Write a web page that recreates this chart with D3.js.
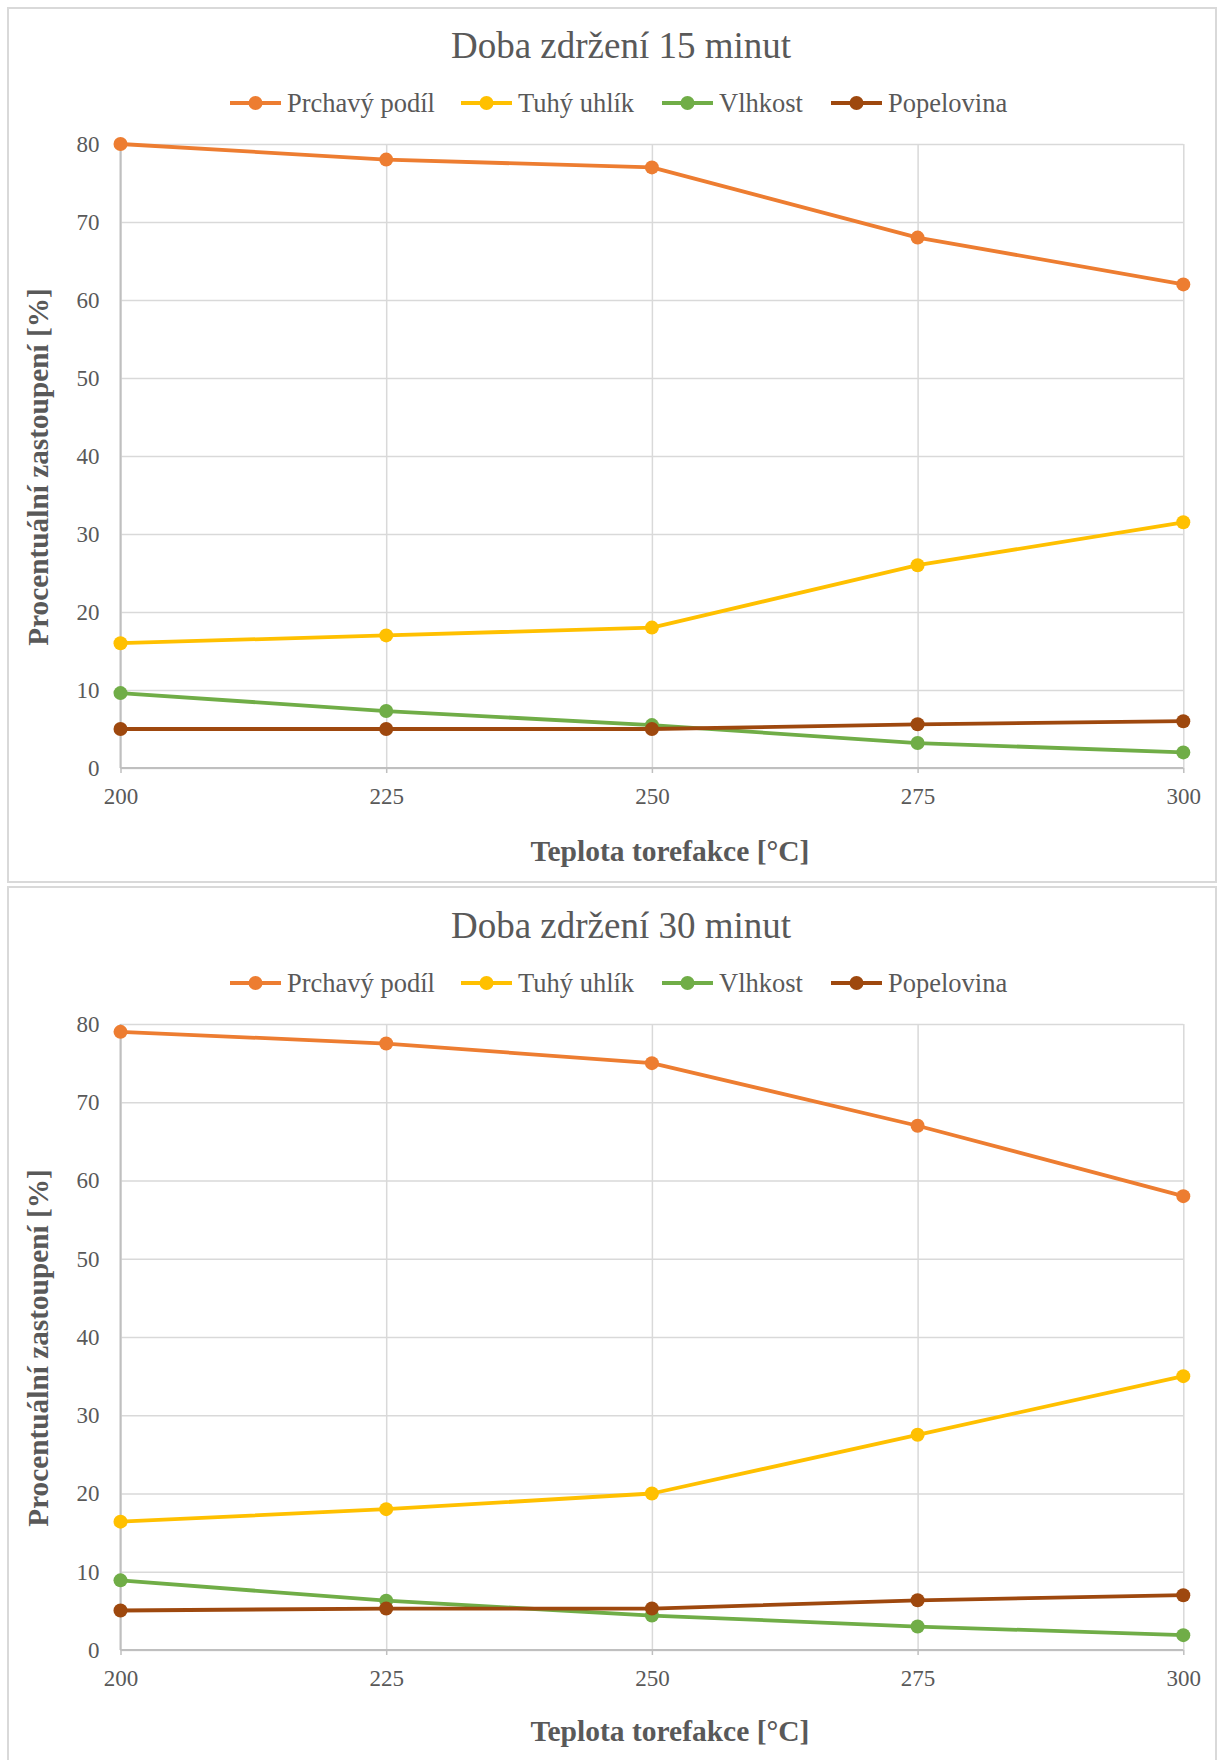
<!DOCTYPE html>
<html><head><meta charset="utf-8">
<script src="https://cdn.jsdelivr.net/npm/d3@7"></script>
<style>
html,body{margin:0;padding:0;background:#fff;}
svg{display:block;}
text{font-family:"Liberation Serif","Times New Roman",serif;fill:#595959;}
</style></head>
<body>
<svg id="c" width="1218" height="1760"></svg>
<script>
const temperatures = [200, 225, 250, 275, 300];
const seriesNames = ["Prchavý podíl", "Tuhý uhlík", "Vlhkost", "Popelovina"];
const seriesColors = ["#ED7D31", "#FFC000", "#70AD47", "#9E480E"];
const yTicks = [0, 10, 20, 30, 40, 50, 60, 70, 80];
const chartTitles = ["Doba zdržení 15 minut", "Doba zdržení 30 minut"];
const xTitle = "Teplota torefakce [°C]";
const yTitle = "Procentuální zastoupení [%]";

// 15 minutes
const prchavy15 = [80, 78, 77, 68, 62];
const tuhy15 = [16, 17, 18, 26, 31.5];
const vlhkost15 = [9.6, 7.3, 5.5, 3.2, 2.0];
const popel15 = [5.0, 5.0, 5.0, 5.6, 6.0];
// 30 minutes
const prchavy30 = [79, 77.5, 75, 67, 58];
const tuhy30 = [16.4, 18, 20, 27.5, 35];
const vlhkost30 = [8.9, 6.3, 4.4, 3.0, 1.9];
const popel30 = [5.05, 5.3, 5.3, 6.35, 7.0];

const charts = [
  {title: chartTitles[0], series: [prchavy15, tuhy15, vlhkost15, popel15], oy: 0, top: 144, bottom: 768, frame: [8, 882]},
  {title: chartTitles[1], series: [prchavy30, tuhy30, vlhkost30, popel30], oy: 880, top: 1024, bottom: 1650, frame: [887, 1764]}
];

const svg = d3.select("#c");
const left = 120.5, right = 1183.3;

charts.forEach(ch => {
  const g = svg.append("g");
  g.append("rect").attr("x", 8).attr("y", ch.frame[0]).attr("width", 1208).attr("height", ch.frame[1] - ch.frame[0])
    .attr("fill", "#fff").attr("stroke", "#d9d9d9").attr("stroke-width", 2);

  const x = d3.scaleLinear().domain([200, 300]).range([left, right]);
  const y = d3.scaleLinear().domain([0, 80]).range([ch.bottom, ch.top]);

  // horizontal grid
  const yAxis = d3.axisLeft(y).tickValues(yTicks).tickSize(-(right - left)).tickPadding(21).tickFormat(d3.format("d"));
  const ya = g.append("g").attr("transform", `translate(${left},0)`).call(yAxis);
  ya.select(".domain").remove();
  ya.selectAll(".tick line").attr("stroke", "#d9d9d9").attr("stroke-width", 1.5);
  ya.selectAll(".tick text").attr("font-size", 23).attr("fill", "#595959")
    .style("font-family", "'Liberation Serif', serif");

  // vertical grid
  const xAxis = d3.axisBottom(x).tickValues(temperatures).tickSize(-(ch.bottom - ch.top)).tickPadding(6).tickFormat(d3.format("d"));
  const xa = g.append("g").attr("transform", `translate(0,${ch.bottom})`).call(xAxis);
  xa.select(".domain").remove();
  xa.selectAll(".tick line").attr("stroke", "#d9d9d9").attr("stroke-width", 1.5);
  xa.selectAll(".tick text").attr("font-size", 23).attr("fill", "#595959").attr("dy", "1.3em")
    .style("font-family", "'Liberation Serif', serif");
  // tick marks below axis
  xa.selectAll(".tick").append("line").attr("y1", 0).attr("y2", 5).attr("stroke", "#bfbfbf").attr("stroke-width", 1.5);

  // axis lines
  g.append("line").attr("x1", left).attr("x2", right).attr("y1", ch.bottom).attr("y2", ch.bottom)
    .attr("stroke", "#bfbfbf").attr("stroke-width", 2);
  g.append("line").attr("x1", left).attr("x2", left).attr("y1", ch.top).attr("y2", ch.bottom)
    .attr("stroke", "#bfbfbf").attr("stroke-width", 2);

  // series
  const line = d3.line().x((d, i) => x(temperatures[i])).y(d => y(d));
  ch.series.forEach((s, k) => {
    g.append("path").datum(s).attr("d", line).attr("fill", "none")
      .attr("stroke", seriesColors[k]).attr("stroke-width", 3.8).attr("stroke-linejoin", "round");
    g.selectAll(null).data(s).enter().append("circle")
      .attr("cx", (d, i) => x(temperatures[i])).attr("cy", d => y(d)).attr("r", 7)
      .attr("fill", seriesColors[k]);
  });

  // title
  g.append("text").attr("x", 621).attr("y", ch.oy + 45).attr("text-anchor", "middle")
    .attr("dominant-baseline", "central").attr("font-size", 37).text(ch.title);

  // legend
  const legX = [230, 461, 662, 831];
  const legY = ch.oy + 103;
  seriesNames.forEach((n, k) => {
    const lg = g.append("g");
    lg.append("line").attr("x1", legX[k]).attr("x2", legX[k] + 51).attr("y1", legY).attr("y2", legY)
      .attr("stroke", seriesColors[k]).attr("stroke-width", 3.8);
    lg.append("circle").attr("cx", legX[k] + 25.5).attr("cy", legY).attr("r", 7).attr("fill", seriesColors[k]);
    lg.append("text").attr("x", legX[k] + 57).attr("y", legY).attr("dominant-baseline", "central")
      .attr("font-size", 26.5).text(n);
  });

  // axis titles
  g.append("text").attr("x", 670).attr("y", ch.oy + 851).attr("text-anchor", "middle")
    .attr("dominant-baseline", "central").attr("font-size", 29.5).attr("font-weight", "bold").text(xTitle);
  g.append("text").attr("transform", `translate(38,${(ch.top + ch.bottom) / 2 + 11}) rotate(-90)`)
    .attr("text-anchor", "middle").attr("dominant-baseline", "central")
    .attr("font-size", 29.3).attr("font-weight", "bold").text(yTitle);
});
</script>
</body></html>
